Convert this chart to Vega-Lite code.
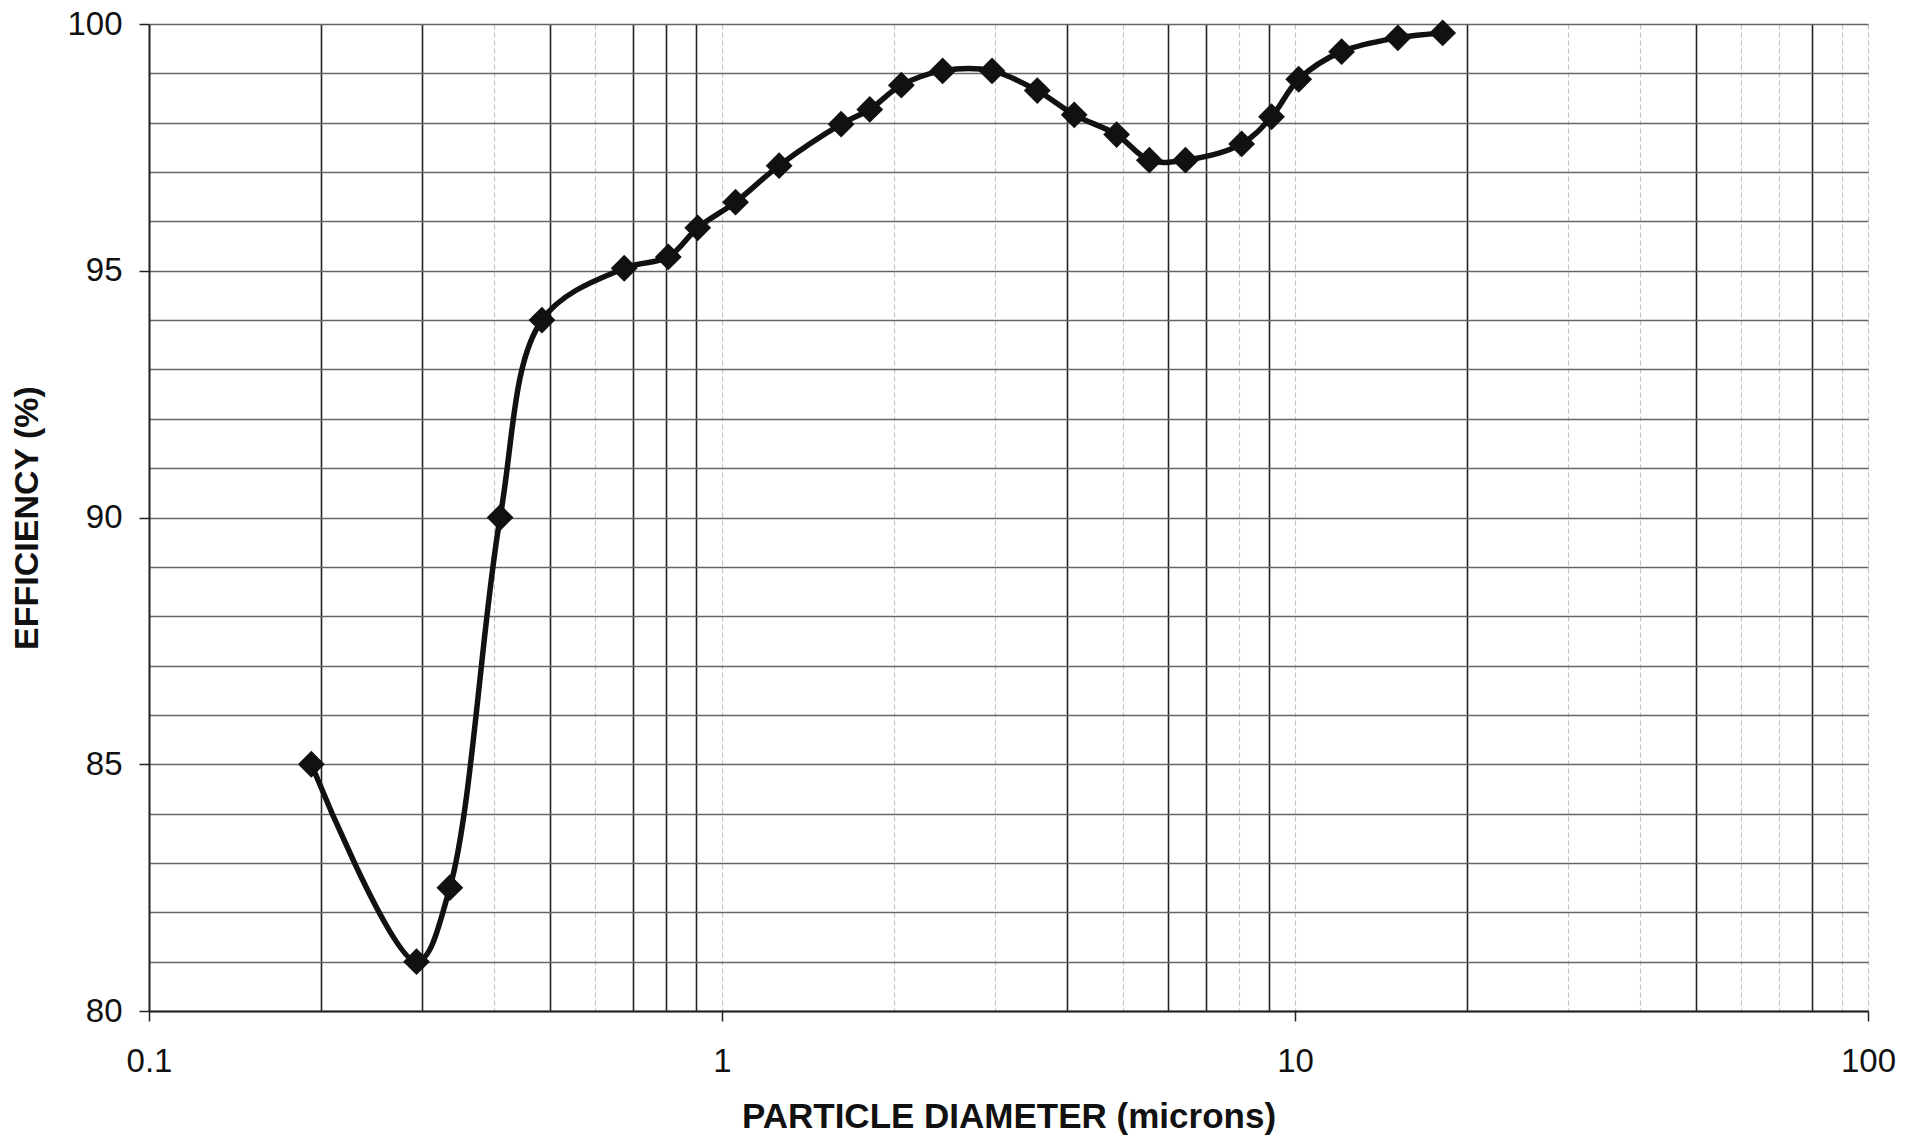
{
  "$schema": "https://vega.github.io/schema/vega-lite/v6.json",
  "width": 1719,
  "height": 987,
  "autosize": {"type": "none"},
  "padding": {"left": 149, "top": 24, "right": 49, "bottom": 129},
  "background": "white",
  "config": {"view": {"stroke": null}},
  "data": {
    "values": [
      {"d": 0.192, "eff": 85.0},
      {"d": 0.293, "eff": 81.0},
      {"d": 0.335, "eff": 82.5},
      {"d": 0.41, "eff": 90.0},
      {"d": 0.485, "eff": 94.0},
      {"d": 0.675, "eff": 95.05},
      {"d": 0.806, "eff": 95.28},
      {"d": 0.907, "eff": 95.87},
      {"d": 1.056, "eff": 96.39},
      {"d": 1.258, "eff": 97.13},
      {"d": 1.614, "eff": 97.97},
      {"d": 1.811, "eff": 98.27},
      {"d": 2.056, "eff": 98.76},
      {"d": 2.427, "eff": 99.05},
      {"d": 2.96, "eff": 99.05},
      {"d": 3.55, "eff": 98.65},
      {"d": 4.118, "eff": 98.16},
      {"d": 4.883, "eff": 97.76},
      {"d": 5.57, "eff": 97.24},
      {"d": 6.44, "eff": 97.24},
      {"d": 8.07, "eff": 97.57},
      {"d": 9.1, "eff": 98.12},
      {"d": 10.15, "eff": 98.88},
      {"d": 12.06, "eff": 99.44},
      {"d": 15.12, "eff": 99.72},
      {"d": 18.1, "eff": 99.82}
    ]
  },
  "encoding": {
    "x": {
      "field": "d",
      "type": "quantitative",
      "scale": {"type": "log", "domain": [0.1, 100], "nice": false},
      "axis": {
        "title": "PARTICLE DIAMETER (microns)",
        "values": [0.1, 0.2, 0.3, 0.4, 0.5, 0.6, 0.7, 0.8, 0.9, 1, 2, 3, 4, 5, 6, 7, 8, 9, 10, 20, 30, 40, 50, 60, 70, 80, 90, 100],
        "format": "~g",
        "labelExpr": "indexof([0.1, 1, 10, 100], datum.value) >= 0 ? datum.label : ''",
        "labelOverlap": false,
        "labelFont": "Liberation Sans",
        "labelFontSize": 33,
        "labelColor": "#111",
        "labelPadding": 24,
        "labelFlush": false,
        "tickSize": 10,
        "tickColor": "#222",
        "tickWidth": 1.5,
        "tickOpacity": {"condition": {"test": "indexof([0.1, 1, 10, 100], datum.value) >= 0", "value": 1}, "value": 0},
        "domainColor": "#222",
        "domainWidth": 2,
        "grid": true,
        "gridColor": {"condition": {"test": "indexof([0.2, 0.3, 0.5, 0.7, 0.8, 0.9, 4, 6, 7, 9, 20, 50, 80], datum.value) >= 0", "value": "#222222"}, "value": "#c4c4c4"},
        "gridWidth": {"condition": {"test": "indexof([0.2, 0.3, 0.5, 0.7, 0.8, 0.9, 4, 6, 7, 9, 20, 50, 80], datum.value) >= 0", "value": 1.6}, "value": 1.2},
        "gridDash": {"condition": {"test": "indexof([0.2, 0.3, 0.5, 0.7, 0.8, 0.9, 4, 6, 7, 9, 20, 50, 80], datum.value) >= 0", "value": []}, "value": [5, 3]},
        "titleFont": "Liberation Sans",
        "titleFontSize": 35,
        "titleFontWeight": "bold",
        "titleColor": "#111",
        "titlePadding": 21
      }
    },
    "y": {
      "field": "eff",
      "type": "quantitative",
      "scale": {"domain": [80, 100], "nice": false, "zero": false},
      "axis": {
        "title": "EFFICIENCY (%)",
        "values": [80, 81, 82, 83, 84, 85, 86, 87, 88, 89, 90, 91, 92, 93, 94, 95, 96, 97, 98, 99, 100],
        "labelExpr": "datum.value % 5 === 0 ? datum.label : ''",
        "labelOverlap": false,
        "labelFont": "Liberation Sans",
        "labelFontSize": 33,
        "labelColor": "#111",
        "labelPadding": 17,
        "labelFlush": false,
        "tickSize": 10,
        "tickColor": "#222",
        "tickWidth": 1.5,
        "tickOpacity": {"condition": {"test": "datum.value % 5 === 0", "value": 1}, "value": 0},
        "domainColor": "#222",
        "domainWidth": 2,
        "grid": true,
        "gridColor": "#666666",
        "gridWidth": 1.5,
        "titleFont": "Liberation Sans",
        "titleFontSize": 34,
        "titleFontWeight": "bold",
        "titleColor": "#111",
        "titlePadding": 22
      }
    }
  },
  "layer": [
    {
      "mark": {"type": "line", "interpolate": "catmull-rom", "color": "#111", "strokeWidth": 5.5}
    },
    {
      "mark": {"type": "point", "shape": "diamond", "filled": true, "color": "#111", "opacity": 1, "size": 720}
    }
  ]
}
